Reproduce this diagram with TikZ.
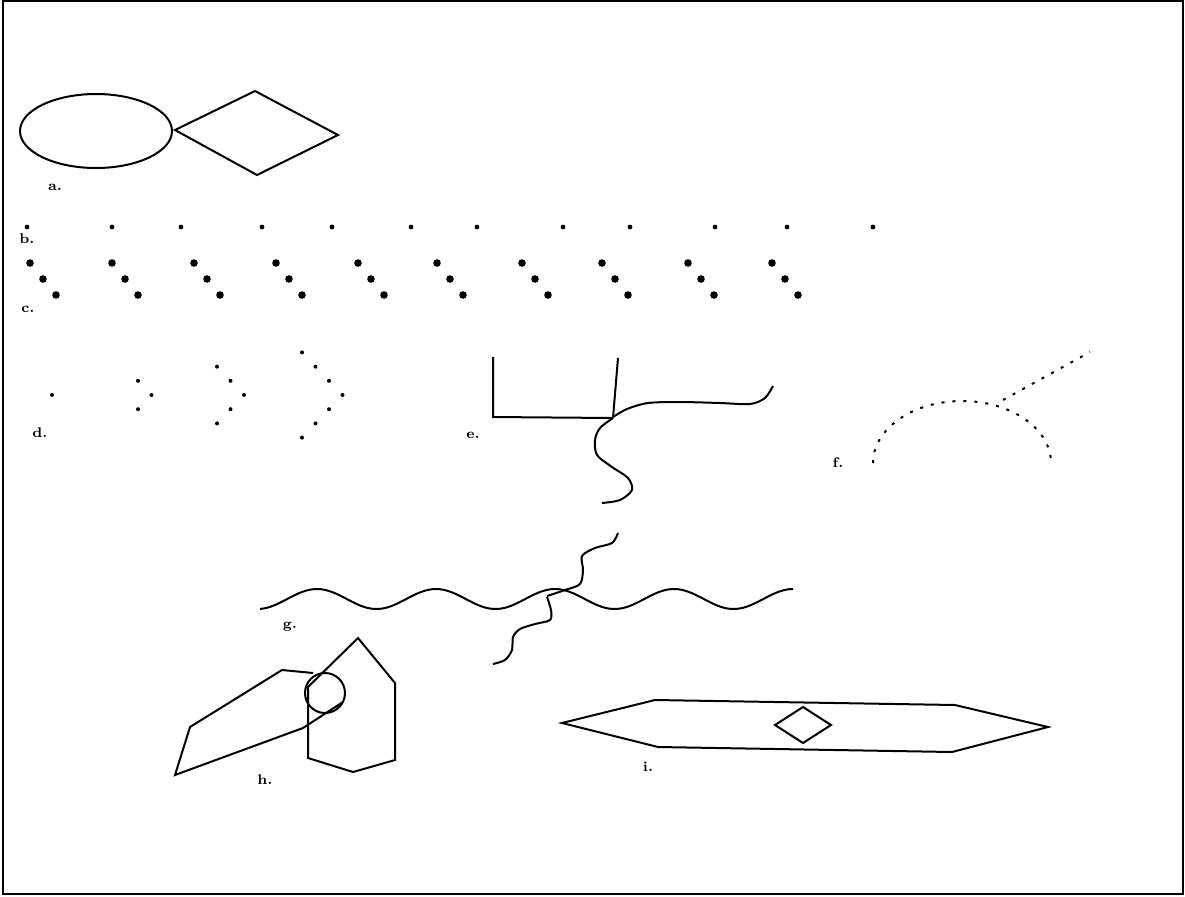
\documentclass[tikz,border=0pt]{standalone}
\usepackage{tikz}

\begin{document}
\begin{tikzpicture}[x=0.5pt,y=-0.5pt,line width=1pt,
    lbl/.style={font=\scriptsize\bfseries,inner sep=0pt},
    dotline/.style={dash pattern=on 1.5pt off 4pt}]
    \useasboundingbox (0,0) rectangle (1185,896);
    \draw (3,1) rectangle (1183,894);
    % ellipse with a rhombus on its right
    \draw (96,131) ellipse[x radius=76,y radius=37];
    \draw (175,130) -- (255,91) -- (338,135) -- (257,175) -- cycle;
    \node[lbl] (la) at (55,187) {a.};
    % two rows of dots
    \foreach \u in {27,112,181,262,332,411,477,563,630,715,787,873}
      \fill (\u,227) circle (1.2pt);
    \node[lbl] (lb) at (27,239) {b.};
    \foreach \u in {30,112,194,276,358,437,522,602,688,772}
      \foreach \d in {0,1,2} \fill ({\u+13*\d},{263+16*\d}) circle (1.9pt);
    \node[lbl] (lc) at (28,309) {c.};
    % dotted chevrons, 1 3 5 7 points
    \foreach \k/\xo in {0/52,1/138,2/217,3/302}
      \foreach \j in {-\k,...,\k}
        \fill ({\xo+13.5*(\k-abs(\j))},{395+14.2*\j}) circle (1pt);
    \node[lbl] (ld) at (40,433) {d.};
    % corner with two wavy tails
    \draw (493,357) -- (493,417) -- (613,418);
    \draw (618,358) -- (613,418);
    \draw plot[smooth] coordinates {(613,417) (627,409) (648,403) (680,402)
      (720,403) (750,404) (765,398) (773,386)};
    \draw plot[smooth] coordinates {(613,418) (600,428) (595,440) (597,455)
      (612,467) (628,478) (632,490) (620,500) (602,503)};
    \node[lbl] (le) at (473,435) {e.};
    % dotted arch with a side stroke
    \draw[dotline] (873,463) arc[start angle=180,end angle=360,x radius=89,y radius=62];
    \draw[dotline] (1003,400) -- (1090,352);
    \node[lbl] (lf) at (838,463) {f.};
    % long wave crossed by a short wiggle, period 119
    \draw plot[domain=260:793,samples=140,smooth] (\x,{599-10*cos(3.025*(\x-317))});
    \draw plot[smooth] coordinates {(547,596) (565,590) (580,584) (583,570)
      (582,556) (595,548) (612,543) (618,533)};
    \draw plot[smooth] coordinates {(547,597) (551,610) (550,620) (535,624)
      (520,629) (513,637) (512,650) (505,660) (493,664)};
    \node[lbl] (lg) at (290,627) {g.};
    % slab, ring and hexagon
    \draw (313,673) -- (282,670) -- (190,727) -- (175,775) -- (303,728) -- (343,702);
    \draw (325,693) circle (20);
    \draw (358,638) -- (395,683) -- (395,760) -- (353,772) -- (308,758) -- (308,687) -- cycle;
    \node[lbl] (lh) at (265,780) {h.};
    % flat hexagon with small rhombus
    \draw (562,723) -- (655,700) -- (955,705) -- (1048,727) -- (952,752) -- (658,747) -- cycle;
    \draw (775,725) -- (803,707) -- (831,725) -- (803,743) -- cycle;
    \node[lbl] (li) at (648,767) {i.};
\end{tikzpicture}
\end{document}
